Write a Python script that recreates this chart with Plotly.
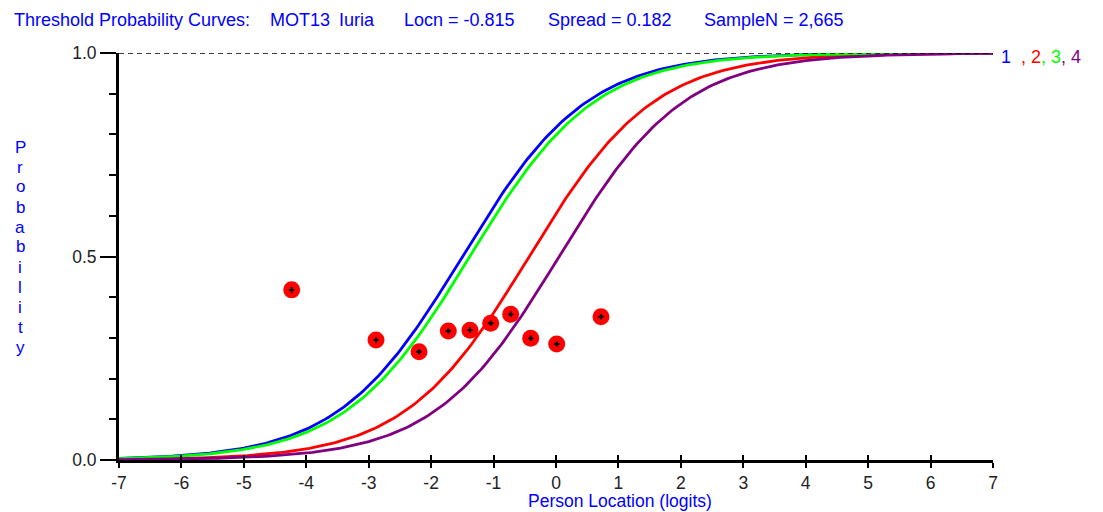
import numpy as np
import plotly.graph_objects as go

# Threshold locations (logits) for the four category thresholds
threshold_labels = ["1", "2", "3", "4"]
thresholds = [-1.50, -0.43, -1.38, 0.05]
curve_colors = ["#0000FF", "#FF0000", "#00FF00", "#800080"]

# Observed class-interval proportions
obs_x = [-4.234, -2.883, -2.194, -1.725, -1.378, -1.046, -0.726, -0.405, 0.011, 0.721]
obs_y = [0.418, 0.295, 0.266, 0.317, 0.319, 0.336, 0.358, 0.299, 0.285, 0.352]

x_ticks = list(range(-7, 8))
y_ticks = [0.0, 0.5, 1.0]
y_tick_text = ["0.0", "0.5", "1.0"]

FONT = "Liberation Sans"
BLUE = "#0000FF"

theta = np.linspace(-7, 7, 281)

fig = go.Figure()

# Rasch threshold probability curves, drawn from the threshold locations
for lab, tau, col in zip(threshold_labels, thresholds, curve_colors):
    p = np.exp(theta - tau) / (1 + np.exp(theta - tau))
    fig.add_trace(go.Scatter(x=theta, y=p, mode="lines", name=lab,
                             line=dict(color=col, width=2.8)))

# Dashed upper asymptote
fig.add_trace(go.Scatter(x=[x_ticks[0], x_ticks[-1]], y=[1, 1], mode="lines",
                         line=dict(color="black", width=1.5, dash="5px,4px")))

# Observed points: red discs with a small black centre mark
fig.add_trace(go.Scatter(x=obs_x, y=obs_y, mode="markers",
                         marker=dict(color="#FF0000", size=17, line=dict(width=0))))
fig.add_trace(go.Scatter(x=obs_x, y=obs_y, mode="markers",
                         marker=dict(symbol="cross-thin", size=4, color="black",
                                     line=dict(color="black", width=1.8))))

fig.update_layout(
    width=1103, height=512,
    margin=dict(l=119, r=110, t=53, b=52),
    plot_bgcolor="white", paper_bgcolor="white",
    showlegend=False,
    font=dict(family=FONT, size=17, color="black"),
    xaxis=dict(range=[-7, 7], tickvals=x_ticks, ticktext=[str(v) for v in x_ticks],
               showgrid=False, zeroline=False, showline=True, linecolor="black",
               linewidth=3, ticks="outside", ticklen=5, tickwidth=2,
               tickcolor="black", tickfont=dict(family=FONT, size=17.5, color="#222222")),
    xaxis2=dict(range=[-7, 7], overlaying="x", anchor="y", side="bottom",
                tickvals=x_ticks, showticklabels=False, showgrid=False,
                zeroline=False, ticks="inside", ticklen=5, tickwidth=2,
                tickcolor="black"),
    yaxis=dict(range=[0, 1], tickvals=y_ticks, ticktext=y_tick_text,
               showgrid=False, zeroline=False, showline=True, linecolor="black",
               linewidth=3, ticks="outside", ticklen=16, tickwidth=2,
               tickcolor="black", tickfont=dict(family=FONT, size=17.5, color="#222222"),
               minor=dict(dtick=0.1, ticks="outside", ticklen=7, tickwidth=2,
                          tickcolor="black")),
)
# Invisible point that activates the overlaid tick axis
fig.add_trace(go.Scatter(x=[0], y=[0], xaxis="x2", mode="markers",
                         marker=dict(opacity=0), hoverinfo="skip"))

plot_w = 1103 - 119 - 110
plot_h = 512 - 53 - 52

def px_x(px):
    return (px - 119) / plot_w

def px_y(py):
    return (512 - 52 - py) / plot_h

# Header line
title_parts = [
    ("Threshold Probability Curves:", 12),
    ("MOT13", 268),
    ("Iuria", 337),
    ("Locn = -0.815", 402),
    ("Spread = 0.182", 546),
    ("SampleN = 2,665", 702),
]
for txt, px in title_parts:
    fig.add_annotation(text=txt, xref="paper", yref="paper",
                       x=px_x(px), y=px_y(20), xanchor="left", yanchor="middle",
                       showarrow=False, font=dict(family=FONT, size=18, color=BLUE))

# Vertical stacked axis title, one letter per row
for i, ch in enumerate("Probability"):
    fig.add_annotation(text=ch, xref="paper", yref="paper",
                       x=px_x(20), y=px_y(147 + 20 * i), xanchor="center", yanchor="middle",
                       showarrow=False, font=dict(family=FONT, size=17, color=BLUE))

fig.add_annotation(text="Person Location (logits)", xref="paper", yref="paper",
                   x=px_x(620), y=px_y(501), xanchor="center", yanchor="middle",
                   showarrow=False, font=dict(family=FONT, size=17.5, color=BLUE))

# Curve labels at the right end
label_text = "".join(
    f"<span style='color:{c}'>{(', ' if i else '') + l}</span>" + ("&nbsp;&nbsp;" if i == 0 else "")
    for i, (l, c) in enumerate(zip(threshold_labels, curve_colors))
)
fig.add_annotation(text=label_text, xref="paper", yref="paper",
                   x=px_x(999), y=px_y(57), xanchor="left", yanchor="middle",
                   showarrow=False, font=dict(family=FONT, size=18))

fig.write_html("out.html")
